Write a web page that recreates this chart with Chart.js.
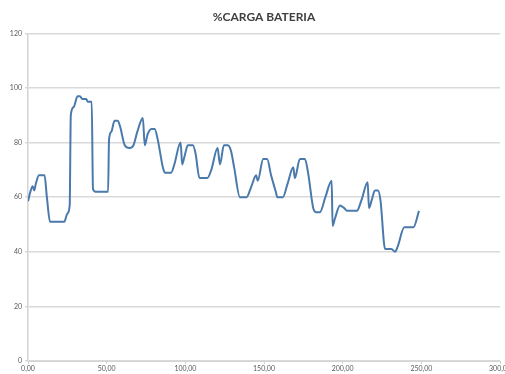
<!DOCTYPE html>
<html>
<head>
<meta charset="utf-8">
<script src="https://cdn.jsdelivr.net/npm/chart.js@4/dist/chart.umd.min.js"></script>
<style>
  html, body { margin: 0; padding: 0; background: #ffffff; }
  #wrap { width: 505px; height: 374px; }
</style>
</head>
<body>
<div id="wrap"><canvas id="grafico"></canvas></div>
<script>
const tiempo = [0, 1.5, 3, 4, 5, 7, 10.5, 12, 14, 23, 25, 26.5, 27.2, 29, 31.5, 33, 34.5, 37, 38, 40.5,
  41.3, 43, 50.9, 51.5, 53, 55, 57, 58.5, 61.5, 64.5, 67, 69.5, 73, 74.2, 76, 78.5, 80.5, 82.5, 85.7, 87,
  91, 93, 97, 98, 99.5, 101.6, 104.8, 106.5, 109, 114, 116.5, 120.5, 122, 124.5, 127, 129, 131, 134.7, 138.9, 142,
  145, 146, 149.5, 152, 154.5, 157.5, 158.5, 162, 165, 168.6, 169.6, 172.8, 176, 178, 181.3, 183, 185.5, 189, 193, 193.6,
  195, 198.3, 201, 203, 209, 212, 215.9, 216.7, 218.5, 220.5, 222.5, 224, 227, 231, 233.3, 235, 239.2, 245, 248.5];
const cargaBateria = [58.5, 62, 64, 62.5, 65, 68, 68, 60, 51, 51, 54, 57, 90, 93, 97, 97, 96, 96, 95, 95,
  63, 62, 62, 81, 84, 88, 88, 86, 79, 78, 79, 84, 89, 79, 83, 85, 85, 81, 71, 69,
  69, 72, 80, 72, 75, 79, 79, 76, 67, 67, 70, 78, 72, 79, 79, 77, 71, 60, 60, 64,
  68, 66, 74, 74, 68, 62, 60, 60, 65, 71, 67, 74, 74, 69, 56, 54.5, 54.5, 60, 66, 49.5,
  52, 57, 56, 55, 55, 59, 65.5, 56, 59, 62.5, 62.5, 59, 41, 41, 40, 42, 49, 49, 55];
const ticksY = [0, 20, 40, 60, 80, 100, 120];
const ticksX = [0, 50, 100, 150, 200, 250, 300];

const pontos = tiempo.map((t, i) => ({ x: t, y: cargaBateria[i] }));

new Chart(document.getElementById('grafico'), {
  type: 'scatter',
  data: {
    datasets: [{
      data: pontos,
      showLine: true,
      borderColor: '#4a79ab',
      borderWidth: 2,
      pointRadius: 0,
      cubicInterpolationMode: 'monotone'
    }]
  },
  options: {
    responsive: true,
    maintainAspectRatio: false,
    animation: false,
    layout: { padding: { left: 0, right: 5, top: 0, bottom: 0 } },
    plugins: {
      legend: { display: false },
      tooltip: { enabled: false },
      title: {
        display: true,
        fullSize: false,
        text: '%CARGA BATERIA',
        color: '#404040',
        font: { family: 'Lato', size: 12, weight: 'bold' },
        padding: { top: 10, bottom: 9 }
      }
    },
    scales: {
      x: {
        type: 'linear',
        min: 0,
        max: 300,
        afterBuildTicks: (scale) => { scale.ticks = ticksX.map(v => ({ value: v })); },
        afterFit: (scale) => { scale.height = 13; scale.paddingLeft = 0; scale.paddingRight = 0; },
        ticks: {
          color: '#595959',
          font: { family: 'Lato', size: 7 },
          padding: 1,
          maxRotation: 0,
          callback: (v) => v.toFixed(2).replace('.', ',')
        },
        grid: { drawOnChartArea: false, drawTicks: true, tickLength: 3, color: '#d4d4d4' },
        border: { color: '#d4d4d4' }
      },
      y: {
        min: 0,
        max: 120,
        afterBuildTicks: (scale) => { scale.ticks = ticksY.map(v => ({ value: v })); },
        afterFit: (scale) => { scale.width = 28; },
        ticks: {
          color: '#595959',
          font: { family: 'Lato', size: 7 },
          padding: 3
        },
        grid: { color: '#d9d9d9', lineWidth: 1.5, tickLength: 3 },
        border: { color: '#d4d4d4', width: 1.5 }
      }
    }
  }
});
</script>
</body>
</html>
